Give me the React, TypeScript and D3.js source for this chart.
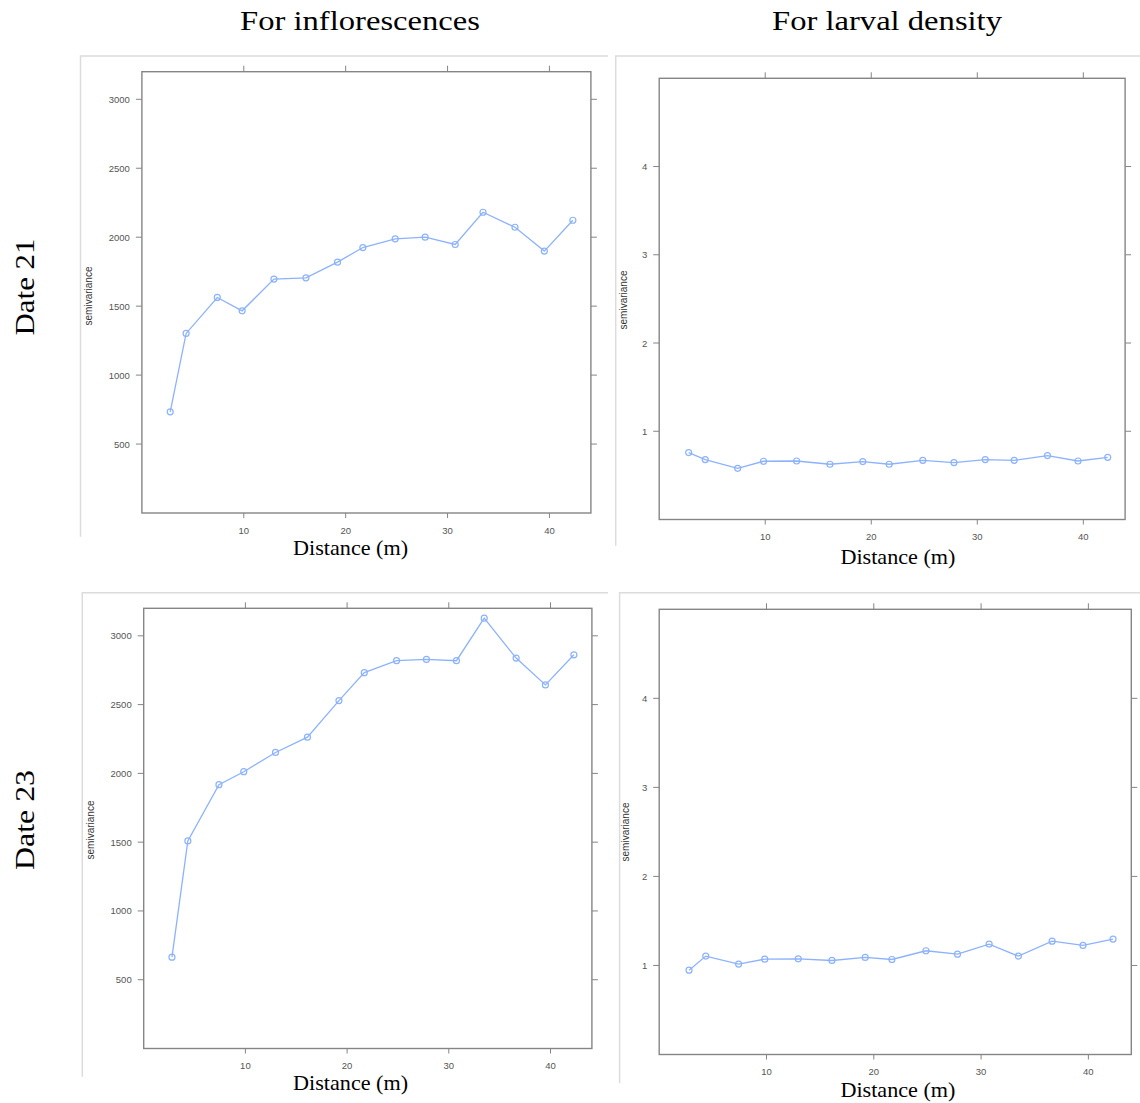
import React from "react";
import * as d3 from "d3";

// ---- data ----
const distances = [2.78, 4.34, 7.4, 9.84, 12.96, 16.1, 19.2, 21.69, 24.86, 27.8, 30.75, 33.48, 36.62, 39.5, 42.3];
const inflorescences21 = [734, 1302, 1563, 1466, 1696, 1705, 1819, 1925, 1988, 2000, 1947, 2181, 2072, 1899, 2123];
const larval21 = [0.758, 0.679, 0.58, 0.66, 0.663, 0.626, 0.656, 0.626, 0.671, 0.645, 0.679, 0.671, 0.724, 0.663, 0.705];
const inflorescences23 = [664, 1509, 1918, 2012, 2152, 2263, 2529, 2732, 2819, 2828, 2819, 3128, 2838, 2643, 2862];
const larval23 = [0.947, 1.105, 1.015, 1.071, 1.075, 1.056, 1.09, 1.067, 1.165, 1.127, 1.24, 1.105, 1.273, 1.225, 1.296];

const xTicks = [10, 20, 30, 40];
const yTicksInflor = [500, 1000, 1500, 2000, 2500, 3000];
const yTicksLarval = [1, 2, 3, 4];

const columnTitles = ["For inflorescences", "For larval density"];
const rowTitles = ["Date 21", "Date 23"];
const xLabel = "Distance (m)";
const yLabel = "semivariance";

// ---- layout ----
const panels = [
  {
    values: inflorescences21, yTicks: yTicksInflor, xDomain: [0, 44.07], yDomain: [0, 3200],
    box: { l: 141.9, r: 590.9, t: 71.7, b: 513 },
    frame: { l: 80.5, t: 56, r: 608, b: 536.7 },
    xLab: { x: 350.6, y: 548 }, yLab: { x: 88, y: 296 },
  },
  {
    values: larval21, yTicks: yTicksLarval, xDomain: [0, 43.94], yDomain: [0, 5],
    box: { l: 659.2, r: 1125.1, t: 78.3, b: 519.5 },
    frame: { l: 615.7, t: 56, r: 1140, b: 545.7 },
    xLab: { x: 897.9, y: 556.7 }, yLab: { x: 623, y: 300 },
  },
  {
    values: inflorescences23, yTicks: yTicksInflor, xDomain: [0, 44.07], yDomain: [0, 3200],
    box: { l: 143.7, r: 591.9, t: 608.3, b: 1048.5 },
    frame: { l: 82.3, t: 592.7, r: 608, b: 1076.7 },
    xLab: { x: 350.6, y: 1083.3 }, yLab: { x: 90, y: 830 },
  },
  {
    values: larval23, yTicks: yTicksLarval, xDomain: [0, 44.0], yDomain: [0, 5],
    box: { l: 659.2, r: 1131.3, t: 609.3, b: 1054.5 },
    frame: { l: 619.6, t: 592.7, r: 1140, b: 1083.3 },
    xLab: { x: 897.9, y: 1090 }, yLab: { x: 625, y: 832 },
  },
];

const SERIF = "'Liberation Serif', 'Times New Roman', serif";
const SANS = "'Liberation Sans', Arial, sans-serif";
const LINE = "#8cb2ff";
const BOX = "#858585";
const TICK_TXT = "#555";

function Panel({ p }: { p: any }) {
  const x = d3.scaleLinear().domain(p.xDomain).range([p.box.l, p.box.r]);
  const y = d3.scaleLinear().domain(p.yDomain).range([p.box.b, p.box.t]);
  const pts = distances.map((d, i) => [d, p.values[i]] as [number, number]);
  const line = d3.line<[number, number]>().x((d) => x(d[0])).y((d) => y(d[1]));
  const tl = 6;
  return (
    <g>
      {/* outer light frame */}
      <path
        d={`M${p.frame.l},${p.frame.b} L${p.frame.l},${p.frame.t} L${p.frame.r},${p.frame.t}`}
        fill="none" stroke="#dcdcdc" strokeWidth={1.5}
      />
      {/* plot box */}
      <rect x={p.box.l} y={p.box.t} width={p.box.r - p.box.l} height={p.box.b - p.box.t}
        fill="none" stroke={BOX} strokeWidth={1.4} />
      {/* x ticks */}
      {xTicks.map((t) => (
        <g key={"x" + t}>
          <line x1={x(t)} x2={x(t)} y1={p.box.b} y2={p.box.b + 5} stroke={BOX} strokeWidth={1} />
          <line x1={x(t)} x2={x(t)} y1={p.box.t} y2={p.box.t - tl} stroke={BOX} strokeWidth={1} />
          <text x={x(t)} y={p.box.b + 17} fontFamily={SANS} fontSize={9.5} fill={TICK_TXT}
            textAnchor="middle" dominantBaseline="central">{t}</text>
        </g>
      ))}
      {/* y ticks */}
      {p.yTicks.map((t: number) => (
        <g key={"y" + t}>
          <line x1={p.box.l} x2={p.box.l - tl} y1={y(t)} y2={y(t)} stroke={BOX} strokeWidth={1} />
          <line x1={p.box.r} x2={p.box.r + tl} y1={y(t)} y2={y(t)} stroke={BOX} strokeWidth={1} />
          <text x={p.box.l - 12} y={y(t)} fontFamily={SANS} fontSize={9.5} fill={TICK_TXT}
            textAnchor="end" dominantBaseline="central">{t}</text>
        </g>
      ))}
      {/* data */}
      <path d={line(pts) || ""} fill="none" stroke={LINE} strokeWidth={1.3} />
      {pts.map((d, i) => (
        <circle key={i} cx={x(d[0])} cy={y(d[1])} r={3} fill="none" stroke={LINE} strokeWidth={1.2} />
      ))}
      {/* labels */}
      <text x={p.xLab.x} y={p.xLab.y} fontFamily={SERIF} fontSize={21} fill="#000"
        textAnchor="middle" dominantBaseline="central" textLength={115}
        lengthAdjust="spacingAndGlyphs">{xLabel}</text>
      <text transform={`translate(${p.yLab.x},${p.yLab.y}) rotate(-90)`} fontFamily={SANS}
        fontSize={10} fill="#333" textAnchor="middle" dominantBaseline="central">{yLabel}</text>
    </g>
  );
}

export default function App() {
  return (
    <svg width={1140} height={1103} style={{ position: "absolute", left: 0, top: 0, background: "#fff" }}>
      <rect x={0} y={0} width={1140} height={1103} fill="#fff" />
      <text x={360} y={20} fontFamily={SERIF} fontSize={28} textAnchor="middle" dominantBaseline="central"
        textLength={240} lengthAdjust="spacingAndGlyphs">
        {columnTitles[0]}
      </text>
      <text x={887} y={20} fontFamily={SERIF} fontSize={28} textAnchor="middle" dominantBaseline="central"
        textLength={230} lengthAdjust="spacingAndGlyphs">
        {columnTitles[1]}
      </text>
      <text transform="translate(25,287) rotate(-90)" fontFamily={SERIF} fontSize={27}
        textAnchor="middle" dominantBaseline="central" textLength={97}
        lengthAdjust="spacingAndGlyphs">{rowTitles[0]}</text>
      <text transform="translate(25,820) rotate(-90)" fontFamily={SERIF} fontSize={27}
        textAnchor="middle" dominantBaseline="central" textLength={100}
        lengthAdjust="spacingAndGlyphs">{rowTitles[1]}</text>
      {panels.map((p, i) => (
        <Panel key={i} p={p} />
      ))}
    </svg>
  );
}
